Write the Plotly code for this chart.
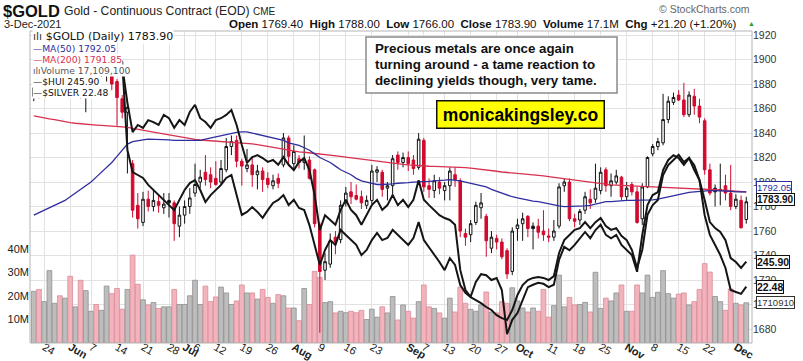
import plotly.graph_objects as go
import pandas as pd
import numpy as np

# ---------------- data ----------------
holidays = ["2021-05-31", "2021-07-05", "2021-09-06", "2021-11-25"]
dates = [d for d in pd.bdate_range("2021-05-20", "2021-12-03")
         if d.strftime("%Y-%m-%d") not in holidays]

gold_open = [1870,1878,1877,1884,1898,1899,1896,1903,1901,1909,
             1873,1891,1898,1893,1895,1899,1882,1868,1857,1815,
             1781,1767,1786,1780,1784,1779,1785,1783,1764,1773,
             1780,1791,1800,1808,1806,1803,1800,1810,1829,1834,
             1817,1811,1814,1806,1809,1803,1797,1803,1814,1836,
             1815,1819,1816,1818,1810,1765,1728,1733,1755,1753,
             1783,1792,1789,1788,1781,1785,1808,1808,1795,1797,
             1822,1816,1820,1818,1812,1834,1797,1793,1800,1793,
             1797,1806,1801,1758,1757,1767,1779,1772,1746,1754,
             1751,1744,1727,1762,1766,1772,1764,1764,1760,1756,
             1755,1764,1797,1800,1770,1769,1777,1786,1786,1793,
             1810,1797,1800,1804,1788,1798,1792,1770,1796,1823,
             1829,1832,1851,1865,1871,1867,1855,1870,1862,1850,
             1810,1795,1794,1797,1791,1780,1785,1769.4]
gold_high = [1890,1890,1889,1900,1913,1904,1910,1916,1912,1910,
             1893,1903,1903,1902,1904,1901,1884,1871,1866,1818,
             1791,1792,1793,1794,1790,1791,1791,1785,1780,1785,
             1795,1815,1810,1822,1812,1817,1818,1836,1838,1838,
             1819,1827,1820,1814,1812,1808,1806,1807,1840,1838,
             1830,1822,1838,1821,1811,1767,1742,1758,1760,1785,
             1796,1800,1798,1793,1789,1814,1813,1810,1800,1822,
             1825,1824,1825,1822,1840,1836,1803,1806,1804,1800,
             1812,1812,1803,1762,1769,1784,1791,1774,1760,1757,
             1754,1746,1763,1770,1775,1773,1767,1770,1777,1762,
             1769,1799,1803,1803,1774,1778,1792,1794,1815,1812,
             1812,1807,1810,1805,1800,1800,1796,1799,1821,1831,
             1836,1872,1870,1873,1875,1881,1874,1876,1868,1852,
             1815,1798,1815,1806,1814,1790,1789,1788]
gold_low = [1866,1868,1874,1880,1892,1888,1883,1896,1896,1868,
            1857,1888,1885,1886,1882,1875,1846,1852,1807,1771,
            1762,1764,1776,1776,1775,1774,1771,1752,1755,1766,
            1774,1788,1795,1797,1795,1797,1798,1808,1822,1812,
            1797,1808,1796,1794,1792,1795,1794,1795,1812,1813,
            1810,1811,1810,1802,1763,1677,1720,1730,1741,1750,
            1780,1782,1785,1778,1778,1782,1800,1788,1785,1787,
            1810,1812,1809,1806,1810,1792,1787,1787,1790,1785,
            1785,1796,1755,1748,1751,1765,1770,1739,1742,1745,
            1737,1721,1724,1752,1752,1755,1745,1754,1752,1751,
            1752,1762,1792,1768,1763,1765,1774,1778,1783,1790,
            1792,1788,1798,1785,1785,1789,1766,1765,1795,1821,
            1826,1830,1848,1863,1866,1853,1853,1855,1848,1806,
            1789,1780,1781,1785,1777,1778,1762,1766]
gold_close = [1877,1876,1884,1898,1899,1896,1903,1901,1909,1873,
              1891,1898,1893,1895,1899,1880,1869,1857,1861,1777,
              1770,1786,1780,1785,1781,1782,1783,1766,1773,1780,
              1787,1798,1804,1802,1800,1798,1811,1829,1833,1817,
              1813,1814,1806,1809,1802,1798,1801,1799,1836,1821,
              1825,1816,1818,1803,1766,1727,1735,1752,1751,1781,
              1791,1788,1786,1783,1785,1809,1810,1794,1797,1819,
              1816,1820,1815,1811,1835,1796,1794,1801,1795,1797,
              1809,1802,1760,1755,1766,1781,1783,1752,1755,1751,
              1739,1725,1760,1765,1770,1762,1762,1759,1757,1755,
              1760,1796,1800,1770,1768,1776,1788,1783,1795,1808,
              1797,1801,1805,1788,1795,1792,1767,1796,1820,1829,
              1833,1851,1866,1869,1867,1855,1871,1862,1853,1810,
              1791,1792,1793,1791,1780,1786,1762.7,1783.9]
volume_m = [22.0,22.8,17.6,30.8,16.9,20.1,19.1,28.4,15.4,26.7,
            22.3,13.5,16.4,13.9,24.2,21.0,23.2,14.4,22.8,37.4,
            25.0,18.4,16.2,17.2,14.7,15.4,15.4,22.8,16.4,16.4,
            20.1,26.7,16.4,24.2,17.6,19.6,23.8,21.3,16.4,17.9,
            24.7,21.3,21.3,18.7,22.8,19.4,16.9,20.6,20.1,14.9,
            14.9,9.5,23.2,16.4,30.5,27.9,17.2,17.6,12.8,13.5,
            12.9,13.5,12.9,13.9,10.0,14.4,11.0,15.4,12.8,19.8,
            9.8,16.2,13.5,10.6,17.6,24.7,15.4,14.7,12.8,10.6,
            19.1,13.2,23.8,16.9,14.3,13.5,16.2,21.7,13.2,12.8,
            17.6,16.9,23.5,17.9,14.9,13.2,14.9,13.5,22.8,11.0,
            15.9,28.9,15.4,19.4,16.2,16.4,17.3,13.2,30.1,14.7,
            19.1,17.9,21.3,24.7,13.5,13.5,24.7,21.3,28.9,19.4,
            21.6,30.8,21.0,19.1,20.8,21.3,16.2,17.6,22.8,33.8,
            30.2,19.8,17.6,13.9,23.0,16.9,16.2,17.1091]
ma50 = [1773,1775,1777,1779,1781,1783,1785,1788,1791,1794,
        1797,1800,1804,1808,1812,1816,1821,1826,1831,1833,
        1834,1834.5,1835,1835,1835,1835,1834.5,1834,1834,1834,
        1834,1834,1834,1835,1836,1837,1838,1839,1840,1840.5,
        1841,1841,1840,1839,1838,1837,1836,1835,1834,1832,
        1831,1830,1828,1826,1823,1820,1818,1816,1813,1810,
        1808,1806,1803,1801,1800,1799,1798,1798,1798,1798.5,
        1799,1799,1799.5,1800,1800,1800,1800.5,1801,1801,1801.5,
        1802,1801.6,1801,1800,1799,1798,1797,1796,1794,1792.5,
        1791,1789,1788,1787,1786,1785,1784.5,1784,1783,1782,
        1781,1780.5,1780,1780,1780,1780,1780.5,1781,1782,1783,
        1784,1784,1784.5,1785,1785,1785,1785,1785,1785,1785.5,
        1786,1787,1788,1789,1790,1791,1791.5,1792,1792.5,1793,
        1793,1793,1793,1792.5,1792.5,1792,1792,1792.05]
ma200 = [1854,1853,1852,1851.5,1851,1850,1849,1848.5,1848,1847.5,
         1847,1846.8,1846.5,1846.2,1846,1845.7,1845.4,1845,1844.6,1844,
         1843.2,1842.4,1841.6,1840.8,1840,1839.2,1838.4,1837.6,1836.8,1836,
         1835.3,1834.8,1834.3,1834,1833.7,1833.4,1833.1,1832.8,1832.5,1832.2,
         1832,1831.8,1831.2,1830.5,1829.7,1829,1828.3,1827.6,1827,1826.2,
         1825.5,1824.7,1824.3,1823.9,1823.5,1823,1822.6,1822.2,1821.6,1821,
         1820.4,1819.8,1819.2,1818.6,1818,1817.4,1816.8,1816.2,1815.6,1815.2,
         1814.8,1814.4,1814,1813.6,1813.2,1813,1812.9,1812.8,1812.7,1812.6,
         1812.5,1812.4,1812.1,1811.7,1811.3,1810.9,1810.5,1810,1809.4,1808.8,
         1808.2,1807.6,1807.3,1807,1806.7,1806.4,1806.1,1805.7,1805.1,1804.5,
         1803.9,1803.3,1802.7,1802.1,1801.6,1801,1800.4,1799.8,1799.2,1798.6,
         1798,1797.7,1797.4,1797.1,1796.8,1796.6,1796.5,1796.3,1796.2,1796,
         1795.8,1795.7,1795.6,1795.5,1795.4,1795.3,1795.2,1795,1794.7,1794.4,
         1794.1,1793.8,1793.5,1793.2,1792.9,1792.6,1792.2,1791.85]
hui = [314.8,315.8,316.5,318.1,319.1,317.1,318.1,319.8,319.1,314.8,
       316.5,317.1,316.5,315.8,314.8,313.8,314.8,312.5,283.1,275.8,
       274.8,273.8,271.5,269.8,268.1,266.5,264.8,263.1,266.5,269.8,
       272.1,273.1,269.8,265.8,268.1,269.8,271.5,273.8,274.8,268.1,
       261.5,262.5,264.1,262.5,260.5,263.1,265.5,266.5,268.1,264.8,
       266.5,263.8,263.1,258.1,251.5,244.8,249.8,253.1,251.5,256.5,
       254.8,253.1,251.5,248.1,249.8,253.1,255.5,253.1,253.8,256.5,
       254.8,253.1,251.5,253.8,259.1,253.1,250.8,248.1,245.8,243.1,
       247.1,244.8,238.1,235.5,234.1,233.1,232.1,230.8,229.8,228.1,
       227.1,226.5,229.8,234.8,238.1,239.8,240.5,240.8,240.5,239.8,
       241.1,248.8,253.1,254.8,256.5,257.1,259.1,257.1,259.1,260.5,
       257.8,256.5,257.1,254.5,253.1,249.8,243.8,249.8,261.5,264.8,
       266.5,274.8,278.1,279.8,281.5,279.1,280.5,278.1,273.1,266.5,
       259.1,257.1,255.8,253.1,247.1,245.8,243.8,245.9]
silver = [27.20,27.25,27.31,27.41,27.45,27.37,27.41,27.52,27.45,27.20,
          27.31,27.37,27.31,27.25,27.31,27.16,27.25,27.08,26.31,25.70,
          25.85,25.79,25.95,25.91,25.85,26.06,25.99,25.79,25.95,25.85,
          26.12,26.27,25.99,25.91,25.79,25.95,25.99,26.06,26.16,25.85,
          25.43,25.06,25.18,25.22,25.16,25.08,25.12,25.02,25.18,25.02,
          24.91,25.08,25.16,24.91,24.39,23.66,23.97,23.87,23.77,24.08,
          24.29,24.08,23.97,23.77,23.97,24.18,24.29,24.08,24.18,24.39,
          24.18,24.29,24.14,24.29,24.70,24.29,24.18,24.08,23.97,23.91,
          23.87,23.77,22.83,22.41,22.27,22.58,22.74,22.72,22.62,22.66,
          22.41,21.49,21.79,21.93,22.20,22.47,22.52,22.56,22.54,22.47,
          22.52,23.04,23.31,23.24,23.35,23.49,23.62,23.49,23.66,23.77,
          23.56,23.49,23.56,23.35,23.24,23.14,22.79,23.56,24.18,24.39,
          24.45,24.91,25.12,25.22,25.16,25.02,25.16,24.91,24.70,23.97,
          23.56,23.35,23.14,22.87,22.41,22.37,22.33,22.48]

tick_dates = ["2021-05-24", "2021-06-01", "2021-06-07", "2021-06-14", "2021-06-21",
              "2021-06-28", "2021-07-01", "2021-07-06", "2021-07-12", "2021-07-19",
              "2021-07-26", "2021-08-02", "2021-08-09", "2021-08-16", "2021-08-23",
              "2021-09-01", "2021-09-07", "2021-09-13", "2021-09-20", "2021-09-27",
              "2021-10-01", "2021-10-11", "2021-10-18", "2021-10-25", "2021-11-01",
              "2021-11-08", "2021-11-15", "2021-11-22", "2021-12-01"]
tick_labels = ["24", "<b>Jun</b>", "7", "14", "21", "28", "<b>Jul</b>", "6", "12", "19",
               "26", "<b>Aug</b>", "9", "16", "23", "<b>Sep</b>", "7", "13", "20", "27",
               "<b>Oct</b>", "11", "18", "25", "<b>Nov</b>", "8", "15", "22", "<b>Dec</b>"]
price_ticks = list(range(1680, 1921, 20))
volume_ticks = [10, 20, 30, 40]
volume_tick_labels = ["10M", "20M", "30M", "40M"]
comment_lines = ["Precious metals are once again",
                 "turning around - a tame reaction to",
                 "declining yields though, very tame."]

# ---------------- figure ----------------
n = len(dates)
idx = np.arange(n)
date_str = [d.strftime("%Y-%m-%d") for d in dates]
tickvals = [date_str.index(d) for d in tick_dates]

o = np.array(gold_open, float); h = np.array(gold_high, float)
l = np.array(gold_low, float); c = np.array(gold_close, float)
prev = np.r_[c[0], c[:-1]]
up = c >= prev

RED = "#d10a2e"
fig = go.Figure()

vol_fill = np.where(up, "#bdbdbd", "#f2b3bd")
vol_edge = np.where(up, "#8f8f8f", "#d98b98")
fig.add_trace(go.Bar(x=idx, y=volume_m, marker=dict(color=list(vol_fill),
                     line=dict(color=list(vol_edge), width=0.8)),
                     width=0.92, yaxis="y", hoverinfo="skip"))

fig.add_trace(go.Scatter(x=idx, y=ma200, mode="lines", line=dict(color="#d8304f", width=1.3),
                         yaxis="y2", hoverinfo="skip"))
fig.add_trace(go.Scatter(x=idx, y=ma50, mode="lines", line=dict(color="#2e2e9e", width=1.3),
                         yaxis="y2", hoverinfo="skip"))

for mask, col in [(up, "#111111"), (~up, RED)]:
    fig.add_trace(go.Candlestick(
        x=idx[mask], open=o[mask], high=h[mask], low=l[mask], close=c[mask],
        increasing=dict(line=dict(color=col, width=1), fillcolor="white"),
        decreasing=dict(line=dict(color=col, width=1), fillcolor=col),
        whiskerwidth=0, yaxis="y2", hoverinfo="skip"))

fig.add_trace(go.Scatter(x=idx, y=hui, mode="lines", line=dict(color="#151515", width=2),
                         yaxis="y3", hoverinfo="skip"))
fig.add_trace(go.Scatter(x=idx, y=silver, mode="lines", line=dict(color="#151515", width=2),
                         yaxis="y4", hoverinfo="skip"))

L, R, T, B = 30, 752, 31, 343
W, H = 803, 361
def xp(px): return (px - L) / (R - L)
def yp(py): return (B - py) / (B - T)

FONT = "Liberation Sans, Arial, sans-serif"
VFONT = "DejaVu Sans, Verdana, sans-serif"
ann = []
def add(text, x, y, size, color="#222", xanchor="left", yanchor="middle", family=FONT, **kw):
    ann.append(dict(text=text, x=xp(x), y=yp(y), xref="paper", yref="paper", showarrow=False,
                    xanchor=xanchor, yanchor=yanchor, font=dict(size=size, color=color, family=family), **kw))

add("<b>$GOLD</b>", 1, 11, 16.5, "#111")
add("Gold - Continuous Contract (EOD)", 62, 11, 12.2, "#222")
add("CME", 251, 11.5, 10, "#222")
add("3-Dec-2021", 2, 24, 11, "#222")
add("<b>Open</b> 1769.40  <b>High</b> 1788.00  <b>Low</b> 1766.00  <b>Close</b> 1783.90  "
    "<b>Volume</b> 17.1M  <b>Chg</b> +21.20 (+1.20%)", 739, 24, 11.5, "#111", xanchor="right")
add("\u25B2", 746, 23, 7, "#2a9d2a")
add("\u00A9 StockCharts.com", 752, 9, 10.5, "#666", xanchor="right")

leg = [("<span style='color:#333'>\u0131l\u0131</span> $GOLD (Daily) 1783.90", 36, 11, "#111"),
       ("\u2014MA(50) 1792.05", 48, 9.2, "#2e2e9e"),
       ("\u2014MA(200) 1791.85", 59.5, 9.2, "#d8304f"),
       ("\u0131l\u0131Volume 17,109,100", 70.5, 9.2, "#555"),
       ("\u2014$HUI 245.90", 81.5, 9.2, "#111"),
       ("\u2014$SILVER 22.48", 92, 9.2, "#111")]
for t, y, s, col in leg:
    add(t, 32, y, s, col, family=VFONT, bgcolor="white", borderpad=0)

shapes = [dict(type="rect", xref="paper", yref="paper", x0=xp(366), x1=xp(617), y0=yp(93), y1=yp(37),
               line=dict(color="#8a8a8a", width=1.5), fillcolor="white", layer="above"),
          dict(type="rect", xref="paper", yref="paper", x0=0, x1=1, y0=0, y1=1,
               line=dict(color="#b5b5b5", width=1), fillcolor="rgba(0,0,0,0)", layer="above")]
for k, line_txt in enumerate(comment_lines):
    add(f"<b>{line_txt}</b>", 373, 48.5 + 16 * k, 13.3, "#111")
ann.append(dict(text="<b>monicakingsley.co</b>", x=xp(520.5), y=yp(114), xref="paper", yref="paper",
                showarrow=False, xanchor="center", yanchor="middle", bgcolor="#ffff00",
                bordercolor="#111", borderwidth=1.5, borderpad=3, width=160,
                font=dict(size=17.5, color="#000", family=FONT)))

def flag(text, y, yref, color="#111", bold=False, size=9.5, shift=0):
    ann.append(dict(text=f"<b>{text}</b>" if bold else text, x=1, y=y, xref="paper", yref=yref,
                    xanchor="left", yanchor="middle", xshift=4, yshift=shift, showarrow=False,
                    bgcolor="white", bordercolor=color, borderwidth=1, borderpad=0,
                    font=dict(size=size, color=color, family=FONT)))
flag("1792.05", ma50[-1], "y2", "#2e2e9e", shift=4)
flag("1783.90", gold_close[-1], "y2", "#111", bold=True, size=10, shift=2)
flag("245.90", hui[-1], "y3", "#111", bold=True, size=10.5)
flag("22.48", silver[-1], "y4", "#111", bold=True, size=10.5)
flag("1710910", volume_m[-1], "y", "#333", size=9.5)

fig.update_layout(
    width=W, height=H, margin=dict(l=L, r=W - R, t=T, b=H - B, pad=0, autoexpand=False),
    autosize=False,
    paper_bgcolor="white", plot_bgcolor="white", showlegend=False,
    bargap=0, annotations=ann, shapes=shapes,
    xaxis=dict(range=[-0.73, 138.1], tickmode="array", tickvals=tickvals, ticktext=tick_labels,
               showgrid=True, gridcolor="#e2e2e2", gridwidth=1, zeroline=False, showline=False,
               ticks="", ticklen=0, ticklabelstandoff=-5,
               tickfont=dict(size=11, color="#222", family=FONT),
               automargin=False, rangeslider=dict(visible=False), fixedrange=True),
    yaxis=dict(range=[0, 132.8], side="left", tickmode="array", tickvals=volume_ticks,
               ticktext=volume_tick_labels, showgrid=False, zeroline=False, showline=False,
               ticks="", ticklen=0, tickfont=dict(size=11, color="#222", family=FONT),
               automargin=False, fixedrange=True),
    yaxis2=dict(range=[1668.6, 1923.3], overlaying="y", side="right", tickmode="array",
                tickvals=price_ticks, showgrid=True, gridcolor="#e2e2e2", zeroline=False,
                showline=False, ticks="", ticklen=3, tickfont=dict(size=10.5, color="#333", family=FONT),
                automargin=False, fixedrange=True),
    yaxis3=dict(range=[218.8, 322.8], overlaying="y", visible=False, fixedrange=True),
    yaxis4=dict(range=[21.307, 27.807], overlaying="y", visible=False, fixedrange=True),
)

html = fig.to_html(include_plotlyjs=True, full_html=True,
                   config={"displayModeBar": False, "staticPlot": True})
html = html.replace("<head>", "<head><style>html,body{margin:0;padding:0;overflow:hidden;}</style>", 1)
with open("out.html", "w", encoding="utf-8") as f:
    f.write(html)
